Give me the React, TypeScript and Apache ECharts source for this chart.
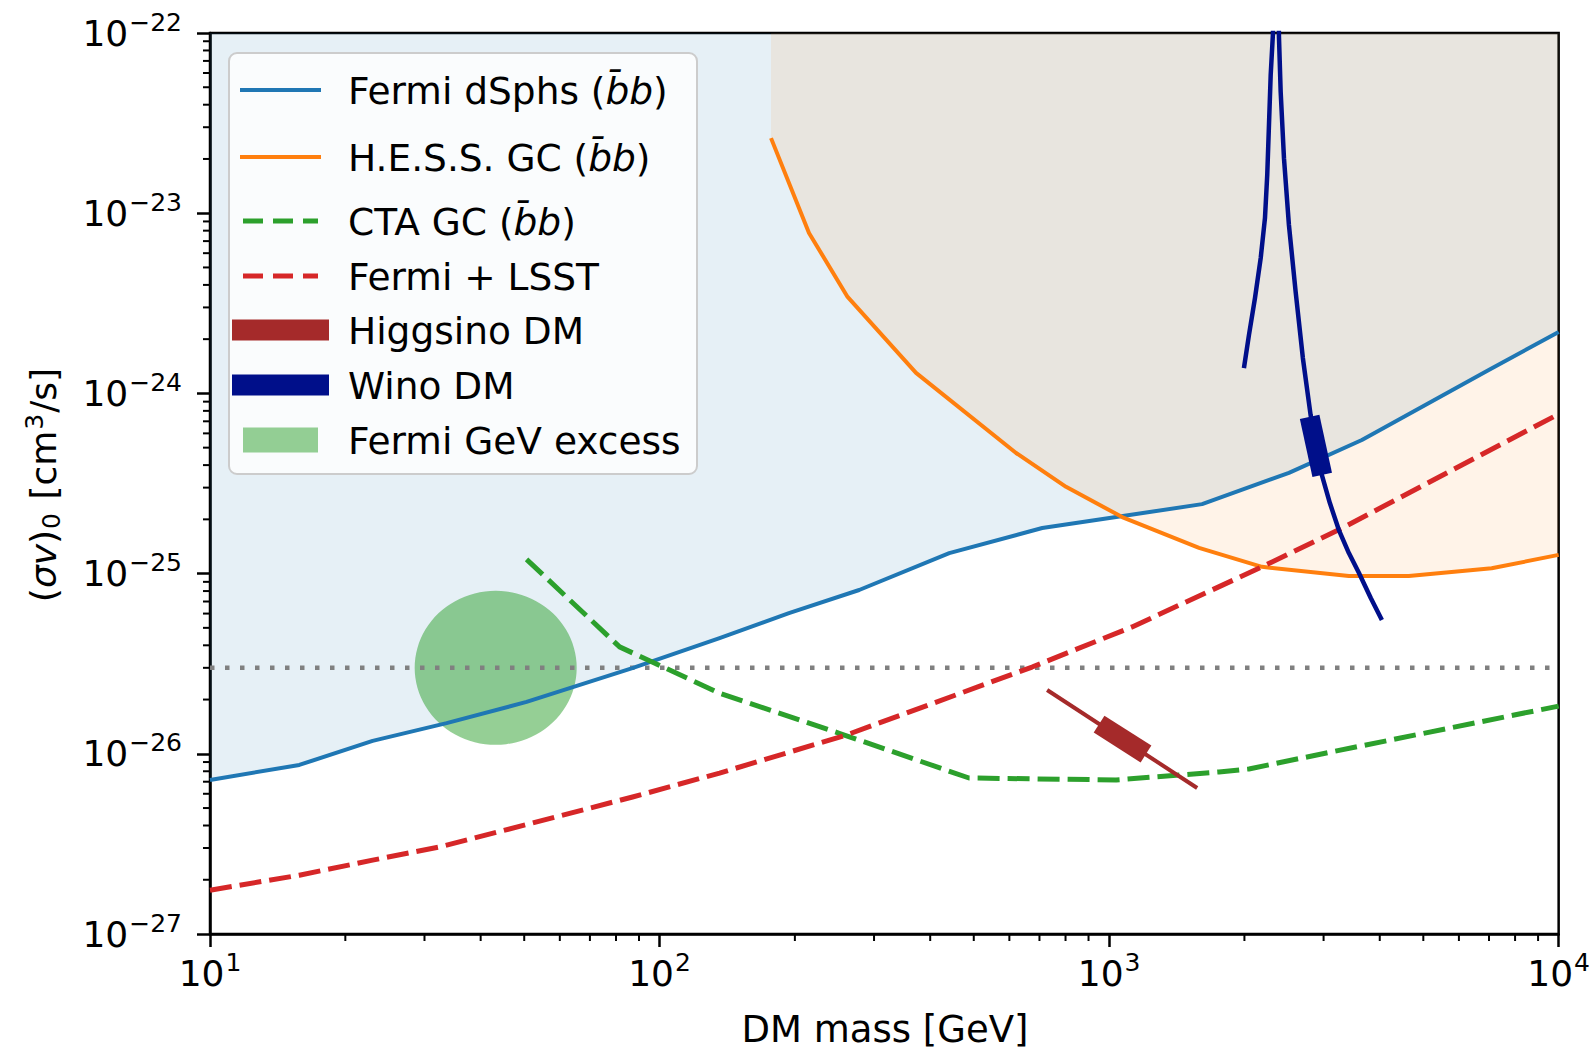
import React, { useEffect, useRef } from 'react';
import * as echarts from 'echarts';

// ---------- data (DM mass in GeV, <sigma v> in cm^3/s) ----------
const fermiMass = [10, 15.8, 23, 33.6, 50.6, 87, 136, 194, 278, 441, 710, 1037, 1610, 2512, 3650, 6990, 10000];
const fermiSv = [7.16e-27, 8.67e-27, 1.18e-26, 1.48e-26, 1.94e-26, 2.99e-26, 4.39e-26, 6.04e-26, 8.11e-26, 1.30e-25, 1.79e-25, 2.06e-25, 2.43e-25, 3.62e-25, 5.51e-25, 1.35e-24, 2.19e-24];

const hessMass = [177, 215, 262, 372, 621, 802, 1069, 1585, 2188, 3415, 4642, 7096, 10000];
const hessSv = [2.61e-23, 7.77e-24, 3.43e-24, 1.30e-24, 4.67e-25, 3.03e-25, 2.06e-25, 1.39e-25, 1.09e-25, 9.7e-26, 9.7e-26, 1.07e-25, 1.27e-25];

const ctaMass = [50.6, 81.5, 136, 251, 488, 1037, 1756, 2047, 3097, 10000];
const ctaSv = [1.20e-25, 3.92e-26, 2.17e-26, 1.30e-26, 7.34e-27, 7.16e-27, 7.93e-27, 8.24e-27, 1.02e-26, 1.84e-26];

const lsstMass = [10, 15.8, 23, 32.4, 52.2, 87.1, 136, 260, 674, 1125, 2188, 3243, 9910];
const lsstSv = [1.75e-27, 2.12e-27, 2.57e-27, 3.04e-27, 4.13e-27, 5.76e-27, 7.82e-27, 1.27e-26, 3.03e-26, 5.06e-26, 1.09e-25, 1.75e-25, 7.59e-25];

const higgsinoMass = [728, 1570];
const higgsinoSv = [2.26e-26, 6.46e-27];
const higgsinoBandMass = [950, 1208];
const higgsinoBandSv = [1.46e-26, 9.97e-27];

const winoMass = [1995, 2047, 2111, 2174, 2222, 2248, 2268, 2288, 2315, 2350, 2387, 2408, 2449, 2512, 2600, 2698, 2807, 2973, 3097, 3243, 3415, 3594, 3820, 4044];
const winoSv = [1.38e-24, 2.11e-24, 3.38e-24, 5.64e-24, 9.40e-24, 1.63e-23, 3.09e-23, 5.85e-23, 1.0e-22, 1.0e-21, 9.55e-23, 4.72e-23, 2.02e-23, 8.60e-24, 3.66e-24, 1.57e-24, 7.59e-25, 3.53e-25, 2.47e-25, 1.75e-25, 1.30e-25, 1.01e-25, 7.32e-26, 5.53e-26];
const winoBandMass = [2793, 2979];
const winoBandSv = [7.40e-25, 3.53e-25];

const relicMass = [10, 10000];
const relicSv = [3e-26, 3e-26];

const gevExcessMass = [43.2];
const gevExcessSv = [3e-26];

const xMajorExponents = [1, 2, 3, 4];
const yMajorExponents = [-27, -26, -25, -24, -23, -22];
const minorMultipliers = [2, 3, 4, 5, 6, 7, 8, 9];

const legendLabels = [
  'Fermi dSphs ({i|b\u0304b})',
  'H.E.S.S. GC ({i|b\u0304b})',
  'CTA GC ({i|b\u0304b})',
  'Fermi + LSST',
  'Higgsino DM',
  'Wino DM',
  'Fermi GeV excess',
];

// ---------- styling ----------
const FONT = 'DejaVu Sans';
const Y_UNIT = 1e-27; // axis works in units of 1e-27 cm^3/s to avoid rounding of tiny numbers
const C0 = '#1f77b4';
const C1 = '#ff7f0e';
const C2 = '#2ca02c';
const C3 = '#d62728';
const BROWN = '#a52a2a';
const WINO = '#000f8a';
const LEG_FS = 37.5;

const zip = (xs: number[], ys: number[]) => xs.map((x, i) => [x, ys[i] / Y_UNIT]);

export default function App() {
  const ref = useRef<HTMLDivElement>(null);

  useEffect(() => {
    const chart = echarts.init(ref.current!, null, { renderer: 'svg' });

    const tickRich = {
      b: { fontSize: 36, fontFamily: FONT, color: '#000' },
      s: { fontSize: 25, fontFamily: FONT, color: '#000', padding: [0, 0, 22, 1] },
    };

    const xMinor: number[][] = [];
    xMajorExponents.slice(0, -1).forEach((e) =>
      minorMultipliers.forEach((m) => xMinor.push([m * Math.pow(10, e), 1]))
    );
    const yMinor: number[][] = [];
    yMajorExponents.slice(0, -1).forEach((e) =>
      minorMultipliers.forEach((m) => yMinor.push([10, (m * Math.pow(10, e + 27))]))
    );

    const lineBase = (name: string, data: number[][], color: string, width: number, dash?: number[]) => ({
      name,
      type: 'line',
      data,
      symbol: 'none',
      silent: true,
      z: 3,
      lineStyle: { color, width, type: dash ? dash : 'solid', cap: 'butt', join: 'round' },
    });

    const legendY = [90, 157, 221, 276, 330, 385, 440];

    const graphics: any[] = [
      {
        type: 'rect',
        z: 100,
        shape: { x: 229, y: 53, width: 468, height: 421, r: 8 },
        style: { fill: 'rgba(255,255,255,0.8)', stroke: '#cccccc', lineWidth: 2 },
      },
      { type: 'line', z: 101, shape: { x1: 240, y1: legendY[0], x2: 321, y2: legendY[0] }, style: { stroke: C0, lineWidth: 4 } },
      { type: 'line', z: 101, shape: { x1: 240, y1: legendY[1], x2: 321, y2: legendY[1] }, style: { stroke: C1, lineWidth: 4 } },
      { type: 'line', z: 101, shape: { x1: 243, y1: legendY[2], x2: 318, y2: legendY[2] }, style: { stroke: C2, lineWidth: 5, lineDash: [20, 10] } },
      { type: 'line', z: 101, shape: { x1: 243, y1: legendY[3], x2: 318, y2: legendY[3] }, style: { stroke: C3, lineWidth: 5, lineDash: [20, 10] } },
      { type: 'rect', z: 101, shape: { x: 232, y: legendY[4] - 10.5, width: 97, height: 21 }, style: { fill: BROWN } },
      { type: 'rect', z: 101, shape: { x: 232, y: legendY[5] - 10.5, width: 97, height: 21 }, style: { fill: WINO } },
      { type: 'rect', z: 101, shape: { x: 243, y: legendY[6] - 12.5, width: 75, height: 25 }, style: { fill: 'rgba(44,160,44,0.5)' } },
      ...legendLabels.map((t, i) => ({
        type: 'text',
        z: 101,
        x: 348,
        y: legendY[i] + 1,
        style: {
          text: t,
          fontSize: LEG_FS,
          fontFamily: FONT,
          fill: '#000',
          verticalAlign: 'middle',
          align: 'left',
          rich: { i: { fontSize: LEG_FS, fontFamily: FONT, fontStyle: 'italic', fill: '#000' } },
        },
      })),
      {
        type: 'text',
        z: 101,
        x: 885,
        y: 1029,
        style: { text: 'DM mass [GeV]', fontSize: 37, fontFamily: FONT, fill: '#000', align: 'center', verticalAlign: 'middle' },
      },
      {
        type: 'text',
        z: 101,
        x: 43,
        y: 485,
        rotation: Math.PI / 2,
        style: {
          text: '{n|(}{i|σv}{n|)}{sub|0}{n| [cm}{sup|3}{n|/s]}',
          align: 'center',
          verticalAlign: 'middle',
          fill: '#000',
          rich: {
            n: { fontSize: 36, fontFamily: FONT, fill: '#000' },
            i: { fontSize: 36, fontFamily: FONT, fontStyle: 'italic', fill: '#000' },
            sub: { fontSize: 25, fontFamily: FONT, fill: '#000', padding: [16, 2, 0, 1] },
            sup: { fontSize: 25, fontFamily: FONT, fill: '#000', padding: [0, 1, 18, 1] },
          },
        },
      },
    ];

    const option: any = {
      animation: false,
      backgroundColor: '#ffffff',
      grid: {
        left: 210,
        top: 33,
        width: 1350,
        height: 901,
        show: true,
        borderColor: '#000',
        borderWidth: 2.5,
        backgroundColor: 'transparent',
      },
      xAxis: {
        type: 'log',
        logBase: 10,
        min: 10,
        max: 10000,
        axisLine: { show: true, lineStyle: { color: '#000', width: 2.5 } },
        axisTick: { show: true, length: 13, lineStyle: { color: '#000', width: 2.5 } },
        axisLabel: {
          margin: 16,
          formatter: (v: number) => `{b|10}{s|${Math.round(Math.log10(v))}}`,
          rich: tickRich,
        },
        splitLine: { show: false },
      },
      yAxis: {
        type: 'log',
        logBase: 10,
        min: 1,
        max: 1e5,
        axisLine: { show: true, lineStyle: { color: '#000', width: 2.5 } },
        axisTick: { show: true, length: 13, lineStyle: { color: '#000', width: 2.5 } },
        axisLabel: {
          margin: 28,
          formatter: (v: number) => {
            const e = Math.round(Math.log10(v)) + Math.round(Math.log10(Y_UNIT));
            return `{b|10}{s|${e < 0 ? '\u2212' : ''}${Math.abs(e)}}`;
          },
          rich: tickRich,
        },
        splitLine: { show: false },
      },
      graphic: graphics,
      series: [
        {
          name: 'fermi-fill',
          type: 'line',
          data: zip(fermiMass, fermiSv),
          symbol: 'none',
          silent: true,
          z: 1,
          lineStyle: { width: 0, opacity: 0 },
          areaStyle: { color: 'rgba(31,119,180,0.115)', origin: 'end', opacity: 1 },
        },
        {
          name: 'hess-fill',
          type: 'line',
          data: zip(hessMass, hessSv),
          symbol: 'none',
          silent: true,
          z: 1,
          lineStyle: { width: 0, opacity: 0 },
          areaStyle: { color: 'rgba(255,127,14,0.095)', origin: 'end', opacity: 1 },
        },
        {
          name: 'Fermi GeV excess',
          type: 'scatter',
          data: zip(gevExcessMass, gevExcessSv),
          symbol: 'circle',
          symbolSize: [162, 154],
          silent: true,
          z: 2,
          itemStyle: { color: 'rgba(44,160,44,0.5)', opacity: 1 },
        },
        lineBase('relic', zip(relicMass, relicSv), '#808080', 4.5, [4.5, 10.5]),
        lineBase('Fermi dSphs', zip(fermiMass, fermiSv), C0, 4),
        lineBase('H.E.S.S. GC', zip(hessMass, hessSv), C1, 4),
        lineBase('CTA GC', zip(ctaMass, ctaSv), C2, 5, [22, 8]),
        lineBase('Fermi + LSST', zip(lsstMass, lsstSv), C3, 5, [22, 8]),
        lineBase('Higgsino DM', zip(higgsinoMass, higgsinoSv), BROWN, 4),
        lineBase('Higgsino band', zip(higgsinoBandMass, higgsinoBandSv), BROWN, 20),
        lineBase('Wino DM', zip(winoMass, winoSv), WINO, 4.5),
        lineBase('Wino band', zip(winoBandMass, winoBandSv), WINO, 20),
        {
          name: 'x-minor',
          type: 'custom',
          silent: true,
          clip: false,
          z: 5,
          data: xMinor,
          renderItem: (params: any, api: any) => {
            const p = api.coord([api.value(0), api.value(1)]);
            return {
              type: 'line',
              shape: { x1: p[0], y1: p[1], x2: p[0], y2: p[1] + 7 },
              style: { stroke: '#000', lineWidth: 2 },
            };
          },
        },
        {
          name: 'y-minor',
          type: 'custom',
          silent: true,
          clip: false,
          z: 5,
          data: yMinor,
          renderItem: (params: any, api: any) => {
            const p = api.coord([api.value(0), api.value(1)]);
            return {
              type: 'line',
              shape: { x1: p[0], y1: p[1], x2: p[0] - 7, y2: p[1] },
              style: { stroke: '#000', lineWidth: 2 },
            };
          },
        },
      ],
    };

    chart.setOption(option);
    return () => chart.dispose();
  }, []);

  return (
    <div
      ref={ref}
      style={{ position: 'fixed', left: 0, top: 0, width: 1593, height: 1049, background: '#fff' }}
    />
  );
}
